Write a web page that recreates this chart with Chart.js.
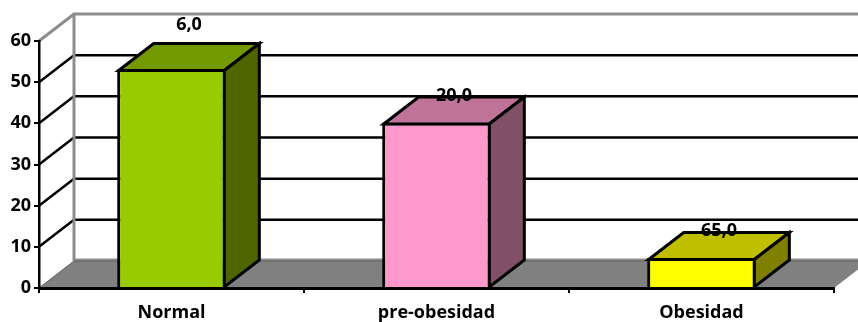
<!DOCTYPE html>
<html lang="es">
<head>
    <meta charset="UTF-8">
    <title>Normal, pre-obesidad, obesidad</title>
    <script src="https://cdn.jsdelivr.net/npm/chart.js"></script>
    <style>
        html, body { margin: 0; padding: 0; background: #fff; overflow: hidden; }
        canvas { display: block; }
    </style>
</head>
<body>
    <canvas id="chart" width="858" height="322"></canvas>
    <script>
// Bar heights follow the value axis, the printed labels are kept as text
const categories = ["Normal", "pre-obesidad", "Obesidad"];
const barValues = [53.2, 40.2, 7.3];
const valueLabels = ["6,0", "20,0", "65,0"];

const frontColors = ["#99cc00", "#ff99cc", "#ffff00"];
const topColors = ["#739900", "#bf7399", "#bfbf00"];
const sideColors = ["#4d6600", "#805066", "#808000"];

// depth of the fake 3D box, in pixels
const depthX = 35;
const depthY = 27;
const fontName = "'Open Sans', sans-serif";

function face(ctx, points, fill) {
    ctx.beginPath();
    points.forEach((p, i) => i ? ctx.lineTo(p[0], p[1]) : ctx.moveTo(p[0], p[1]));
    ctx.closePath();
    ctx.fillStyle = fill;
    ctx.fill();
    ctx.stroke();
}

// Walls, floor and the gridlines that run along them
const roomPlugin = {
    id: "room",
    beforeDraw(chart) {
        const { ctx, chartArea: area, scales: { y } } = chart;
        const zero = y.getPixelForValue(0);
        const backX = area.left + depthX;
        const farX = area.right + depthX;
        ctx.save();
        ctx.lineCap = "butt";

        ctx.strokeStyle = "#000";
        ctx.lineWidth = 2.5;
        y.ticks.forEach(tick => {
            if (tick.value === 0 || tick.value === y.max) return;
            const py = y.getPixelForValue(tick.value);
            ctx.beginPath();
            ctx.moveTo(area.left, py);
            ctx.lineTo(backX, py - depthY);
            ctx.lineTo(farX, py - depthY);
            ctx.stroke();
        });

        ctx.strokeStyle = "#8c8c8c";
        ctx.lineWidth = 3;
        ctx.beginPath();
        ctx.moveTo(area.left, area.top);
        ctx.lineTo(backX, area.top - depthY);
        ctx.lineTo(farX, area.top - depthY);
        ctx.moveTo(backX, area.top - depthY);
        ctx.lineTo(backX, zero - depthY);
        ctx.moveTo(backX, zero - depthY - 1);
        ctx.lineTo(farX, zero - depthY - 1);
        ctx.stroke();

        ctx.fillStyle = "#808080";
        ctx.beginPath();
        ctx.moveTo(area.left, zero);
        ctx.lineTo(backX, zero - depthY);
        ctx.lineTo(farX, zero - depthY);
        ctx.lineTo(area.right, zero);
        ctx.closePath();
        ctx.fill();

        ctx.strokeStyle = "#606060";
        ctx.lineWidth = 1;
        ctx.beginPath();
        ctx.moveTo(area.left, zero);
        ctx.lineTo(backX, zero - depthY);
        ctx.lineTo(farX, zero - depthY);
        ctx.stroke();
        ctx.restore();
    }
};

// Top and side faces of each bar, then the printed labels
const boxPlugin = {
    id: "box",
    afterDatasetsDraw(chart) {
        const { ctx } = chart;
        const bars = chart.getDatasetMeta(0).data;
        ctx.save();
        ctx.strokeStyle = "#000";
        ctx.lineWidth = 3;
        ctx.lineJoin = "miter";
        bars.forEach((bar, i) => {
            const l = bar.x - bar.width / 2 + 1.5;
            const r = bar.x + bar.width / 2 - 1.5;
            const t = bar.y + 1.5;
            const b = bar.base;
            face(ctx, [[l, t], [l + depthX, t - depthY], [r + depthX, t - depthY], [r, t]], topColors[i]);
            face(ctx, [[r, t], [r + depthX, t - depthY], [r + depthX, b - depthY], [r, b]], sideColors[i]);
        });
        ctx.fillStyle = "#000";
        ctx.font = "bold 18px " + fontName;
        ctx.textAlign = "center";
        ctx.textBaseline = "middle";
        bars.forEach((bar, i) => {
            // the first label sits clear above its box
            const lift = i === 0 ? 17 : 0;
            ctx.fillText(valueLabels[i], bar.x + depthX / 2, bar.y - depthY - lift);
        });
        ctx.restore();
    }
};

new Chart(document.getElementById("chart"), {
    type: "bar",
    data: {
        labels: categories,
        datasets: [{
            data: barValues,
            backgroundColor: frontColors,
            borderColor: "#000",
            borderWidth: 3,
            borderSkipped: "bottom",
            categoryPercentage: 1,
            barPercentage: 0.41
        }]
    },
    options: {
        responsive: false,
        animation: false,
        layout: { padding: { top: 41, right: 24, left: 0, bottom: 0 } },
        plugins: { legend: { display: false }, title: { display: false }, tooltip: { enabled: false } },
        scales: {
            x: {
                // above the bars, so the axis closes off their lower edge
                z: 1,
                afterFit: s => { s.height = 34; },
                border: { color: "#000", width: 3 },
                grid: { drawOnChartArea: false, color: "#000", lineWidth: 2, tickLength: 5 },
                ticks: { color: "#000", padding: 9, maxRotation: 0, font: { family: fontName, size: 18, weight: "bold" } }
            },
            y: {
                min: 0,
                max: 60,
                afterFit: s => { s.width = 39; },
                border: { color: "#000", width: 2.5 },
                grid: { drawOnChartArea: false, color: "#000", lineWidth: 2, tickLength: 5 },
                ticks: { stepSize: 10, color: "#000", padding: 3, font: { family: fontName, size: 18, weight: "bold" } }
            }
        }
    },
    plugins: [roomPlugin, boxPlugin]
});
    </script>
</body>
</html>
